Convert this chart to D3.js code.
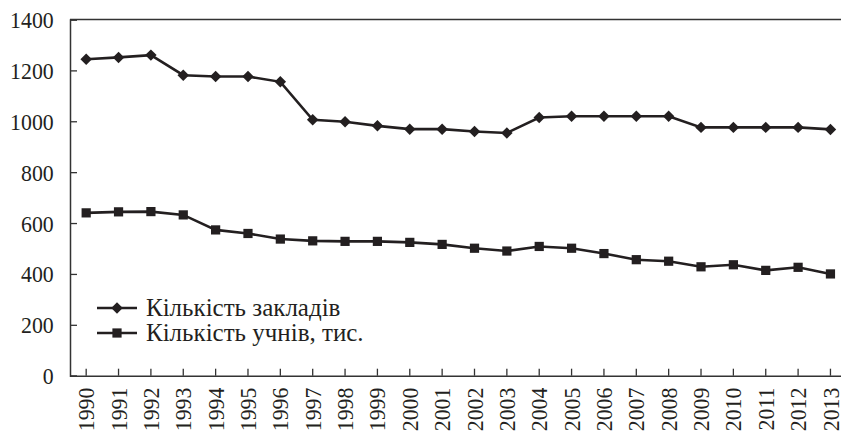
<!DOCTYPE html>
<html>
<head>
<meta charset="utf-8">
<script src="https://cdn.jsdelivr.net/npm/d3@7"></script>
<style>
  body { margin: 0; background: #fff; }
</style>
</head>
<body>
<svg id="chart"></svg>
<script>
// Data
let years = ['1990', '1991', '1992', '1993', '1994', '1995', '1996', '1997', '1998', '1999', '2000',
    '2001', '2002', '2003', '2004', '2005', '2006', '2007', '2008', '2009', '2010', '2011', '2012', '2013'];
let institutions = [1244, 1251, 1260, 1181, 1176, 1176, 1155, 1006, 998, 982, 969,
    969, 960, 954, 1015, 1020, 1020, 1020, 1020, 976, 976, 976, 976, 968];
let pupils = [640, 644, 645, 632, 573, 559, 537, 530, 528, 528, 524,
    516, 501, 490, 508, 501, 480, 456, 450, 428, 436, 414, 426, 400];
let yTicks = [0, 200, 400, 600, 800, 1000, 1200, 1400];
let seriesNames = ['Кількість закладів', 'Кількість учнів, тис.'];

let width = 841, height = 433;
let plotLeft = 70, plotTop = 19.5, plotBottom = 375.7;
let step = 32.36;
let ink = '#231f20';
let serif = 'Liberation Serif';

let svg = d3.select('#chart').attr('width', width).attr('height', height);

let x = d3.scaleBand()
    .domain(years)
    .range([plotLeft, plotLeft + step * years.length]);
let y = d3.scaleLinear().domain([0, 1400]).range([plotBottom, plotTop]);
let cx = d => x(d) + x.bandwidth() / 2;

// frame: top line (runs off the page on the right)
svg.append('line')
    .attr('x1', plotLeft).attr('x2', plotLeft + step * years.length)
    .attr('y1', y(1400)).attr('y2', y(1400))
    .attr('stroke', '#333').attr('stroke-width', 1.5);

// y axis
let yAxis = svg.append('g')
    .attr('transform', `translate(${plotLeft},0)`)
    .call(d3.axisLeft(y).tickValues(yTicks).tickSize(-7).tickPadding(15).tickFormat(d3.format('d')));
yAxis.select('.domain').attr('stroke', '#333').attr('stroke-width', 1.5);
yAxis.selectAll('.tick line').attr('stroke', '#333').attr('stroke-width', 1.3);
yAxis.selectAll('text')
    .attr('font-family', serif).attr('font-size', 23)
    .attr('fill', ink).attr('dy', '0.35em')
    .attr('transform', 'translate(-2,0) scale(0.95,1)');

// x axis
let xAxis = svg.append('g')
    .attr('transform', `translate(0,${plotBottom})`)
    .call(d3.axisBottom(x).tickSize(-7).tickSizeOuter(0));
xAxis.select('.domain').attr('stroke', '#333').attr('stroke-width', 1.5);
xAxis.selectAll('.tick line').attr('stroke', '#333').attr('stroke-width', 1.3);
xAxis.selectAll('text')
    .attr('font-family', serif).attr('font-size', 23)
    .attr('fill', ink)
    .attr('text-anchor', 'end')
    .attr('transform', 'rotate(-90) scale(0.95,1)')
    .attr('x', -12.5)
    .attr('y', 0)
    .attr('dy', '0.35em');

let line = d3.line().x((d, i) => cx(years[i])).y(d => y(d));

let diamond = d3.symbol().type(d3.symbolDiamond2).size(84);
let square = d3.symbol().type(d3.symbolSquare).size(85);

function drawSeries(values, sym) {
    svg.append('path')
        .datum(values)
        .attr('d', line)
        .attr('fill', 'none')
        .attr('stroke', ink)
        .attr('stroke-width', 2.6);
    svg.append('g').selectAll('path')
        .data(values)
        .enter().append('path')
        .attr('d', sym)
        .attr('transform', (d, i) => `translate(${cx(years[i])},${y(d)})`)
        .attr('fill', ink);
}

drawSeries(institutions, diamond);
drawSeries(pupils, square);

// legend
let legend = svg.append('g').attr('transform', 'translate(97,308)');
[diamond, square].forEach((sym, i) => {
    let row = legend.append('g').attr('transform', `translate(0,${i * 25})`);
    row.append('line').attr('x1', 0).attr('x2', 40).attr('y1', 0).attr('y2', 0)
        .attr('stroke', ink).attr('stroke-width', 2.6);
    row.append('path').attr('d', sym).attr('transform', 'translate(20,0)').attr('fill', ink);
    row.append('text').attr('x', 49).attr('y', 0).attr('dy', '0.33em')
        .attr('font-family', serif).attr('fill', ink)
        .attr('font-size', 25).text(seriesNames[i]);
});
</script>
</body>
</html>
